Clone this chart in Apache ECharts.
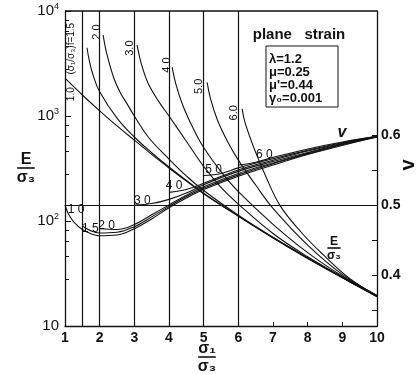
<!DOCTYPE html>
<html>
<head>
<meta charset="utf-8">
<script src="https://cdn.jsdelivr.net/npm/echarts@6/dist/echarts.min.js"></script>
<style>
  html, body { margin: 0; background: #fff; }
  #chart { width: 420px; height: 375px; }
</style>
</head>
<body>
<div id="chart"></div>
<script>
const xTicks = [1, 2, 3, 4, 5, 6, 7, 8, 9, 10];
const failureRatios = [1.5, 2.0, 3.0, 4.0, 5.0, 6.0];
const nuTicks = [0.35, 0.4, 0.45, 0.5, 0.55, 0.6];
const nuLabels = [0.4, 0.5, 0.6];

// E/sigma3 against sigma1/sigma3, one curve per failure ratio
const e10 = [[1, 2290], [1.5, 1585], [2, 1120], [2.5, 804], [3, 589], [3.5, 431], [4, 320], [4.5, 240], [5, 182], [6, 111], [7, 69], [8, 44], [9, 28.8], [10, 19]];
const e15 = [[1.635, 4470], [1.7, 3390], [1.8, 2510], [2, 1700], [2.5, 955], [3, 631], [3.5, 447], [4, 327], [5, 184], [6, 112], [7, 69.5], [8, 44.4], [9, 29], [10, 19.1]];
const e20 = [[2.1, 5890], [2.2, 3980], [2.4, 2340], [2.6, 1660], [2.8, 1290], [3, 1000], [3.4, 631], [4, 389], [4.5, 269], [5, 195], [6, 113.5], [7, 70], [8, 44.5], [9, 29], [10, 19.2]];
const e30 = [[3.08, 4730], [3.2, 3160], [3.4, 2040], [3.74, 1320], [4, 1000], [4.5, 575], [5, 331], [5.5, 209], [6, 145], [7, 76], [8, 45.7], [9, 29.4], [10, 19.3]];
const e40 = [[4.09, 2920], [4.2, 2000], [4.4, 1260], [4.7, 760], [5, 501], [5.5, 295], [6, 190], [7, 93], [8, 50], [9, 29.9], [10, 19.4]];
const e50 = [[5.1, 2090], [5.2, 1450], [5.4, 912], [5.7, 562], [6, 380], [6.5, 220], [7, 132], [8, 59], [9, 31], [10, 19.5]];
const e60 = [[6.11, 1170], [6.2, 850], [6.48, 468], [6.8, 263], [7.2, 141], [7.8, 79], [8.44, 48], [9.22, 28.2], [10, 19.5]];

// Poisson's ratio against sigma1/sigma3
const nu10 = [[1, 0.5], [1.1, 0.487], [1.25, 0.476], [1.5, 0.465], [1.75, 0.459], [2, 0.456], [2.5, 0.457], [3, 0.466], [3.5, 0.48], [4, 0.496], [4.5, 0.51], [5, 0.522], [6, 0.541], [7, 0.557], [8, 0.572], [9, 0.585], [10, 0.597]];
const nu15 = [[1.5, 0.47], [1.75, 0.463], [2, 0.46], [2.5, 0.461], [3, 0.469], [3.5, 0.483], [4, 0.498], [4.5, 0.512], [5, 0.524], [6, 0.543], [7, 0.559], [8, 0.573], [9, 0.586], [10, 0.597]];
const nu20 = [[2, 0.466], [2.5, 0.465], [3, 0.472], [3.5, 0.486], [4, 0.5], [4.5, 0.514], [5, 0.526], [6, 0.545], [7, 0.56], [8, 0.574], [9, 0.587], [10, 0.597]];
const nu30 = [[3, 0.5], [3.5, 0.502], [4, 0.508], [4.5, 0.517], [5, 0.529], [6, 0.548], [7, 0.562], [8, 0.575], [9, 0.587], [10, 0.598]];
const nu40 = [[4, 0.518], [4.5, 0.522], [5, 0.531], [6, 0.55], [7, 0.564], [8, 0.577], [9, 0.588], [10, 0.598]];
const nu50 = [[5, 0.542], [5.5, 0.545], [6, 0.553], [7, 0.566], [8, 0.578], [9, 0.589], [10, 0.598]];
const nu60 = [[6, 0.557], [6.5, 0.561], [7, 0.568], [8, 0.58], [9, 0.59], [10, 0.598]];

const eCurves = [["1.0", e10], ["1.5", e15], ["2.0", e20], ["3.0", e30], ["4.0", e40], ["5.0", e50], ["6.0", e60]];
const nuCurves = [["1.0", nu10], ["1.5", nu15], ["2.0", nu20], ["3.0", nu30], ["4.0", nu40], ["5.0", nu50], ["6.0", nu60]];

const FONT = '"Liberation Sans", Arial, sans-serif';
const INK = "#111";

const chart = echarts.init(document.getElementById("chart"));

const lineSeries = (name, data, axis) => ({
  name: name,
  type: "line",
  yAxisIndex: axis,
  data: data,
  showSymbol: false,
  smooth: 0.4,
  silent: true,
  lineStyle: { color: INK, width: 1.1 },
});

const series = [];
eCurves.forEach(([k, d]) => series.push(lineSeries("E " + k, d, 0)));
nuCurves.forEach(([k, d]) => series.push(lineSeries("nu " + k, d, 1)));

// vertical lines at each failure ratio, horizontal at nu = 0.5
series[0].markLine = {
  symbol: "none",
  silent: true,
  label: { show: false },
  lineStyle: { color: INK, width: 1.2, type: "solid" },
  data: failureRatios.map((v) => ({ xAxis: v })),
};
series[eCurves.length].markLine = {
  symbol: "none",
  silent: true,
  label: { show: false },
  lineStyle: { color: INK, width: 1.2, type: "solid" },
  data: [{ yAxis: 0.5 }],
};

const option = {
  animation: false,
  backgroundColor: "#fff",
  grid: { left: 65, right: 43, top: 11, bottom: 49 },
  xAxis: {
    type: "value",
    min: 1,
    max: 10,
    interval: 1,
    axisLine: { lineStyle: { color: INK, width: 1.3 } },
    axisTick: { inside: true, length: 4, lineStyle: { color: INK } },
    axisLabel: { color: INK, fontFamily: FONT, fontWeight: "bold", fontSize: 14, margin: 5 },
    splitLine: { show: false },
  },
  yAxis: [
    {
      type: "log",
      logBase: 10,
      min: 10,
      max: 10000,
      axisLine: { show: true, lineStyle: { color: INK, width: 1.3 } },
      axisTick: { show: true, inside: true, length: 6, lineStyle: { color: INK } },
      minorTick: { show: true, splitNumber: 5, length: 4, lineStyle: { color: INK } },
      axisLabel: {
        color: INK,
        fontFamily: FONT,
        fontSize: 15,
        margin: 6,
        formatter: (v) => (v <= 10 ? "10" : "10{s|" + Math.round(Math.log10(v)) + "}"),
        rich: { s: { fontSize: 9, verticalAlign: "top", fontFamily: FONT, color: INK, padding: [0, 0, 8, 0] } },
      },
      splitLine: { show: false },
    },
    {
      type: "value",
      position: "right",
      min: 0.3271,
      max: 0.7771,
      axisLine: { show: true, lineStyle: { color: INK, width: 1.3 } },
      axisTick: { show: true, inside: true, length: 5, customValues: nuTicks, lineStyle: { color: INK } },
      axisLabel: {
        color: INK,
        fontFamily: FONT,
        fontWeight: "bold",
        fontSize: 14,
        margin: 4,
        customValues: nuLabels,
        formatter: (v) => v.toFixed(1),
      },
      splitLine: { show: false },
    },
  ],
  series: series,
};

chart.setOption(option);

// top border of the frame
const topBorder = { type: "line", shape: { x1: 65, y1: 11, x2: 377, y2: 11 }, style: { stroke: INK, lineWidth: 1.3 } };

const txt = (text, x, y, opts) => ({
  type: "text",
  x: x,
  y: y,
  rotation: (opts && opts.rot) || 0,
  style: Object.assign({
    text: text,
    fill: INK,
    font: "bold 12px " + FONT,
    align: "center",
    verticalAlign: "middle",
  }, opts && opts.style),
});

const graphics = [topBorder];

// labels of the E/sigma3 curves, beside their starts
const eOffsets = { "1.5": [-16, 1], "2.0": [-6, -3], "3.0": [-7, 3], "4.0": [-5, -2], "5.0": [-8, 4], "6.0": [-8, 4] };
eCurves.slice(1).forEach(([k, d]) => {
  const p = chart.convertToPixel({ xAxisIndex: 0, yAxisIndex: 0 }, d[0]);
  const o = eOffsets[k];
  const label = k === "1.5" ? "(σ\u2081/σ\u2083)f=1.5" : k;
  const size = k === "1.5" ? 10 : 11;
  graphics.push(txt(label, p[0] + o[0], p[1] + o[1], { rot: Math.PI / 2, style: { font: size + "px " + FONT } }));
});
const p10 = chart.convertToPixel({ xAxisIndex: 0, yAxisIndex: 0 }, e10[0]);
graphics.push(txt("1.0", p10[0] + 6, p10[1] + 16, { rot: Math.PI / 2, style: { font: "10px " + FONT } }));

// labels of the Poisson's ratio curves
const nuOffsets = { "1.0": [11, 5], "1.5": [8, 3], "2.0": [7, -3], "3.0": [8, -4], "4.0": [5, -7], "5.0": [10, -6], "6.0": [26, -10] };
nuCurves.forEach(([k, d]) => {
  const p = chart.convertToPixel({ xAxisIndex: 0, yAxisIndex: 1 }, d[0]);
  const o = nuOffsets[k];
  graphics.push(txt(k.replace(".", " "), p[0] + o[0], p[1] + o[1], { style: { font: "12px " + FONT } }));
});

// plane strain parameters
graphics.push(txt("plane   strain", 299, 35, { style: { font: "bold 15px " + FONT } }));
graphics.push({ type: "rect", shape: { x: 266, y: 46, width: 72, height: 61 }, style: { fill: "none", stroke: INK, lineWidth: 1 } });
["λ=1.2", "μ=0.25", "μ'=0.44", "γ\u2080=0.001"].forEach((s, i) => {
  graphics.push(txt(s, 269, 59 + i * 13, { style: { font: "bold 13px " + FONT, align: "left" } }));
});

// curve family names
graphics.push(txt("v", 342, 133, { style: { font: "italic bold 16px " + FONT } }));
const frac = (top, bottom, x, y, size, rot) => ({
  type: "group",
  x: x,
  y: y,
  rotation: rot || 0,
  children: [
    { type: "text", x: 0, y: -size * 0.55, style: { text: top, fill: INK, font: "bold " + size + "px " + FONT, align: "center", verticalAlign: "middle" } },
    { type: "rect", shape: { x: -size * 0.55, y: -0.8, width: size * 1.1, height: 1.6 }, style: { fill: INK } },
    { type: "text", x: 0, y: size * 0.6, style: { text: bottom, fill: INK, font: "bold " + size + "px " + FONT, align: "center", verticalAlign: "middle" } },
  ],
});
graphics.push(frac("E", "σ\u2083", 334, 248, 12));
graphics.push(frac("E", "σ\u2083", 26, 168, 16));
graphics.push(frac("σ\u2081", "σ\u2083", 207, 357, 16));
graphics.push(txt("v", 408, 165, { rot: Math.PI / 2, style: { font: "bold 20px " + FONT } }));

chart.setOption({ graphic: graphics });
</script>
</body>
</html>
